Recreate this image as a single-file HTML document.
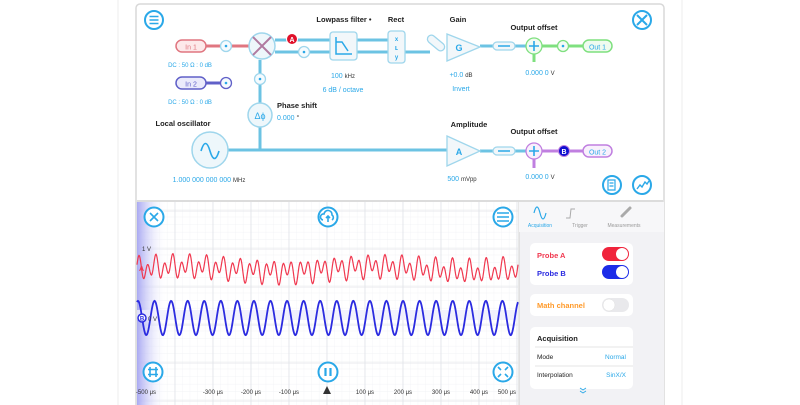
<!DOCTYPE html>
<html><head><meta charset="utf-8"><style>
html,body{margin:0;padding:0;background:#fff;width:800px;height:405px;overflow:hidden;font-family:"Liberation Sans",sans-serif}
svg text{font-family:"Liberation Sans",sans-serif}
</style></head><body>
<svg width="800" height="405" viewBox="0 0 800 405" xmlns="http://www.w3.org/2000/svg">
<defs>
<linearGradient id="strip" x1="0" x2="1"><stop offset="0" stop-color="#a9a9f2"/><stop offset="1" stop-color="#fff" stop-opacity="0"/></linearGradient>
<pattern id="minor" width="7.6" height="7.6" patternUnits="userSpaceOnUse" x="137" y="202"><path d="M7.6 0V7.6H0" fill="none" stroke="#eef0f3" stroke-width="0.6"/></pattern>
</defs>
<line x1="118" y1="0" x2="118" y2="405" stroke="#eee"/>
<line x1="682" y1="0" x2="682" y2="405" stroke="#eee"/>
<rect x="136" y="4" width="528" height="410" rx="4" fill="#fff" stroke="#d8d8d8" stroke-width="1.5"/>

<g font-size="7.5" font-weight="bold">
<g stroke-width="3" fill="none">
<path d="M205 46H262" stroke="#e07680"/>
<path d="M205 83H226" stroke="#6060c8"/>
<path d="M275 40H330M275 52H330M357 40H388M357 52H388M405 52H430M260 60V103M260 127V150M228 150H447" stroke="#6cc3e3"/>
<path d="M480 46H493M515 46H583M480 151H493M515 151H583" stroke="#6cc3e3"/>
<path d="M534 46H583M534 46V62" stroke="#7fe07f"/>
<path d="M534 151H583M534 151V168" stroke="#c07fe0"/>
</g>
<circle cx="154" cy="20" r="9" fill="#fff" stroke="#2aa8e8" stroke-width="2"/>
<path d="M149.5 16.5h9M149.5 20h9M149.5 23.5h9" stroke="#2aa8e8" stroke-width="1.6"/>
<circle cx="642" cy="20" r="9" fill="#fff" stroke="#2aa8e8" stroke-width="2"/>
<path d="M637 15l10 10M647 15l-10 10" stroke="#2aa8e8" stroke-width="2"/>
<rect x="176" y="40" width="30" height="12" rx="6" fill="#fde9ea" stroke="#e07680" stroke-width="1.5"/>
<text x="191" y="49.5" text-anchor="middle" fill="#e07680" font-weight="normal" font-size="7">In 1</text>
<circle cx="226" cy="46" r="5.5" fill="#f5fbfe" stroke="#9fd6ec" stroke-width="1.3"/><circle cx="226" cy="46" r="1.3" fill="#2aa8e8"/>
<rect x="176" y="77" width="30" height="12" rx="6" fill="#ebebfb" stroke="#6060c8" stroke-width="1.5"/>
<text x="191" y="86.5" text-anchor="middle" fill="#6060c8" font-weight="normal" font-size="7">In 2</text>
<circle cx="226" cy="83" r="5.5" fill="#f5fbfe" stroke="#6060c8" stroke-width="1.3"/><circle cx="226" cy="83" r="1.3" fill="#2aa8e8"/>
<text x="190" y="67" text-anchor="middle" fill="#2aa8e8" font-weight="normal" font-size="6">DC : 50 Ω : 0 dB</text>
<text x="190" y="104" text-anchor="middle" fill="#2aa8e8" font-weight="normal" font-size="6">DC : 50 Ω : 0 dB</text>
<circle cx="262" cy="46" r="13" fill="#eef7fb" stroke="#9fd6ec" stroke-width="1.5"/>
<path d="M253 37l18 18M271 37l-18 18" stroke="#b07aa0" stroke-width="2"/>
<circle cx="292" cy="39" r="5.5" fill="#e0102a" stroke="#fff"/><text x="292" y="42" text-anchor="middle" fill="#fff" font-size="7">A</text>
<circle cx="304" cy="52" r="5.5" fill="#f5fbfe" stroke="#9fd6ec" stroke-width="1.3"/><circle cx="304" cy="52" r="1.3" fill="#2aa8e8"/>
<circle cx="260" cy="79" r="5.5" fill="#f5fbfe" stroke="#9fd6ec" stroke-width="1.3"/><circle cx="260" cy="79" r="1.3" fill="#2aa8e8"/>
<rect x="330" y="32" width="27" height="28" rx="3" fill="#f2f7fa" stroke="#9fd6ec" stroke-width="1.3"/>
<path d="M336 37V54H352M336 42h6l6 9" stroke="#2aa8e8" stroke-width="1.5" fill="none"/>
<text x="344" y="22" text-anchor="middle" fill="#222">Lowpass filter •</text>
<text x="343" y="78" text-anchor="middle" fill="#2aa8e8" font-weight="normal" font-size="7">100 <tspan fill="#333" font-size="6">kHz</tspan></text>
<text x="343" y="92" text-anchor="middle" fill="#2aa8e8" font-weight="normal" font-size="7">6 dB / octave</text>
<rect x="388" y="31" width="17" height="32" rx="3" fill="#f2f7fa" stroke="#9fd6ec" stroke-width="1.3"/>
<text x="396.5" y="41" text-anchor="middle" fill="#2aa8e8" font-size="6">x</text><text x="396.5" y="50" text-anchor="middle" fill="#2aa8e8" font-size="7">ʟ</text><text x="396.5" y="59" text-anchor="middle" fill="#2aa8e8" font-size="6">y</text>
<text x="396" y="22" text-anchor="middle" fill="#222">Rect</text>
<rect x="426" y="39" width="20" height="8" rx="4" transform="rotate(40 436 43)" fill="#f2f7fa" stroke="#9fd6ec" stroke-width="1.3"/>
<path d="M447 34L480 47L447 61Z" fill="#f2f7fa" stroke="#9fd6ec" stroke-width="1.3"/>
<text x="459" y="51" text-anchor="middle" fill="#2aa8e8" font-size="9">G</text>
<text x="458" y="22" text-anchor="middle" fill="#222">Gain</text>
<text x="461" y="77" text-anchor="middle" fill="#2aa8e8" font-weight="normal" font-size="7">+0.0 <tspan fill="#333" font-size="6">dB</tspan></text>
<text x="461" y="91" text-anchor="middle" fill="#2aa8e8" font-weight="normal" font-size="7">Invert</text>
<text x="534" y="30" text-anchor="middle" fill="#222">Output offset</text>
<rect x="493" y="42" width="22" height="8" rx="4" fill="#f2f7fa" stroke="#9fd6ec" stroke-width="1.3"/><path d="M498 46h12" stroke="#2aa8e8" stroke-width="1.5"/>
<circle cx="534" cy="46" r="8" fill="#f2fbf2" stroke="#7fe07f" stroke-width="1.3"/><path d="M529 46h10M534 41v10" stroke="#2aa8e8" stroke-width="1.6"/>
<circle cx="563" cy="46" r="5.5" fill="#f5fbf5" stroke="#7fe07f" stroke-width="1.3"/><circle cx="563" cy="46" r="1.3" fill="#2aa8e8"/>
<rect x="583" y="40" width="29" height="12" rx="6" fill="#effbef" stroke="#7fe07f" stroke-width="1.5"/><text x="597.5" y="49.5" text-anchor="middle" fill="#2aa8e8" font-weight="normal" font-size="7">Out 1</text>
<text x="540" y="75" text-anchor="middle" fill="#2aa8e8" font-weight="normal" font-size="7">0.000 0 <tspan fill="#333" font-size="6">V</tspan></text>
<circle cx="260" cy="115" r="12" fill="#eef7fb" stroke="#9fd6ec" stroke-width="1.5"/>
<text x="260" y="119" text-anchor="middle" fill="#2aa8e8" font-size="9" font-weight="normal">Δϕ</text>
<text x="277" y="108" fill="#222">Phase shift</text>
<text x="277" y="120" fill="#2aa8e8" font-weight="normal" font-size="7">0.000 <tspan fill="#333">°</tspan></text>
<text x="183" y="126" text-anchor="middle" fill="#222">Local oscillator</text>
<circle cx="210" cy="150" r="18" fill="#eef7fb" stroke="#9fd6ec" stroke-width="1.5"/>
<path d="M201 151c3-10 6-10 9 0s6 10 9 0" fill="none" stroke="#2aa8e8" stroke-width="1.6"/>
<text x="209" y="182" text-anchor="middle" fill="#2aa8e8" font-weight="normal" font-size="7">1.000 000 000 000 <tspan fill="#333" font-size="6">MHz</tspan></text>
<text x="469" y="127" text-anchor="middle" fill="#222">Amplitude</text>
<path d="M447 136L480 151L447 166Z" fill="#f2f7fa" stroke="#9fd6ec" stroke-width="1.3"/>
<text x="459" y="155" text-anchor="middle" fill="#2aa8e8" font-size="9">A</text>
<text x="462" y="181" text-anchor="middle" fill="#2aa8e8" font-weight="normal" font-size="7">500 <tspan fill="#333" font-size="6">mVpp</tspan></text>
<text x="534" y="134" text-anchor="middle" fill="#222">Output offset</text>
<rect x="493" y="147" width="22" height="8" rx="4" fill="#f2f7fa" stroke="#9fd6ec" stroke-width="1.3"/><path d="M498 151h12" stroke="#2aa8e8" stroke-width="1.5"/>
<circle cx="534" cy="151" r="8" fill="#f8f0fc" stroke="#c07fe0" stroke-width="1.3"/><path d="M529 151h10M534 146v10" stroke="#2aa8e8" stroke-width="1.6"/>
<circle cx="564" cy="151" r="5.5" fill="#1010d0" stroke="#c07fe0"/><text x="564" y="154" text-anchor="middle" fill="#fff" font-size="7">B</text>
<rect x="583" y="145" width="29" height="12" rx="6" fill="#f8f0fc" stroke="#c07fe0" stroke-width="1.5"/><text x="597.5" y="154.5" text-anchor="middle" fill="#2aa8e8" font-weight="normal" font-size="7">Out 2</text>
<text x="540" y="179" text-anchor="middle" fill="#2aa8e8" font-weight="normal" font-size="7">0.000 0 <tspan fill="#333" font-size="6">V</tspan></text>
<circle cx="612" cy="185" r="9" fill="#fff" stroke="#2aa8e8" stroke-width="2"/>
<path d="M608 180h7v10h-7zM609.5 183h4M609.5 186h4" stroke="#2aa8e8" fill="none" stroke-width="1.2"/>
<circle cx="642" cy="185" r="9" fill="#fff" stroke="#2aa8e8" stroke-width="2"/>
<path d="M637 189l3-4 2 2 3-5 2 2 2-3" stroke="#2aa8e8" fill="none" stroke-width="1.4"/>
</g>

<line x1="137" y1="201" x2="663" y2="201" stroke="#d0d0d0" stroke-width="1.5"/>
<g>
<rect x="137" y="202" width="381" height="203" fill="url(#minor)"/>
<g id="grid" stroke="#e0e3e8" stroke-width="0.8"></g>
<rect x="137" y="202" width="30" height="203" fill="url(#strip)"/>
<rect x="137" y="310" width="381" height="10" fill="#eeeefc" opacity="0.8"/>
<path id="traceA" fill="none" stroke="#f0384f" stroke-width="1.2"/>
<path id="traceB" fill="none" stroke="#2b2be0" stroke-width="1.8"/>
<text x="142" y="251" font-size="6" fill="#333">1 V</text>
<text x="139" y="271" font-size="7" fill="#f0384f" font-weight="bold">A</text>
<circle cx="142" cy="318" r="4" fill="#fff" stroke="#2b2be0" stroke-width="1.5"/><text x="142" y="320.5" text-anchor="middle" font-size="6" fill="#2b2be0" font-weight="bold">B</text>
<text x="148" y="321" font-size="6" fill="#333">0 V</text>
<g id="ticks" font-size="6" fill="#333"></g>
<path d="M327 386l-4 8h8z" fill="#333"/>
<g fill="#fff" stroke="#2aa8e8" stroke-width="2">
<circle cx="154" cy="217" r="9.5"/>
<circle cx="328" cy="217" r="9.5"/>
<circle cx="503" cy="217" r="9.5"/>
<circle cx="153" cy="372" r="9.5"/>
<circle cx="328" cy="372" r="9.5"/>
<circle cx="503" cy="372" r="9.5"/>
</g>
<g stroke="#2aa8e8" stroke-width="1.6" fill="none">
<path d="M150 213l8 8M158 213l-8 8"/>
<path d="M323 220a3 3 0 0 1 1-6a4 4 0 0 1 8 1a3 3 0 0 1 0 5M328 222v-6M326 218l2-2 2 2"/>
<path d="M497 213h12M497 217h12M497 221h12"/>
<path d="M150 367v10M156 367v10M148 369.5h10M148 374.5h10"/>
<path d="M325.5 368v8M330.5 368v8" stroke-width="2.2"/>
<path d="M498 367l3 3M508 367l-3 3M498 377l3-3M508 377l-3-3"/>
</g>
</g>

<g>
<rect x="519" y="202" width="145" height="203" fill="#f2f2f5"/>
<line x1="519" y1="202" x2="519" y2="405" stroke="#d0d0d0"/>
<rect x="519" y="202" width="145" height="30" fill="#f7f7f9"/>
<path d="M534 213c2-8 4-8 6 0s4 8 6 0" stroke="#2aa8e8" fill="none" stroke-width="1.2"/>
<path d="M566 218h4l1-9h4" stroke="#aaa" fill="none" stroke-width="1"/>
<path d="M622 216l8-8" stroke="#aaa" stroke-width="3" stroke-linecap="round"/>
<text x="540" y="227" text-anchor="middle" font-size="5" fill="#2aa8e8">Acquisition</text>
<text x="580" y="227" text-anchor="middle" font-size="5" fill="#999">Trigger</text>
<text x="624" y="227" text-anchor="middle" font-size="5" fill="#999">Measurements</text>
<rect x="530" y="243" width="103" height="42" rx="5" fill="#fff"/>
<text x="537" y="258" font-size="7.5" font-weight="bold" fill="#f0384f">Probe A</text>
<text x="537" y="276" font-size="7.5" font-weight="bold" fill="#2b2be0">Probe B</text>
<rect x="602" y="247" width="27" height="14" rx="7" fill="#f0243c"/><circle cx="622" cy="254" r="6" fill="#fff"/>
<rect x="602" y="265" width="27" height="14" rx="7" fill="#1c2ce8"/><circle cx="622" cy="272" r="6" fill="#fff"/>
<rect x="530" y="294" width="103" height="22" rx="5" fill="#fff"/>
<text x="537" y="308" font-size="7.5" font-weight="bold" fill="#ff9a2a">Math channel</text>
<rect x="602" y="298" width="27" height="14" rx="7" fill="#e9e9ec"/><circle cx="609" cy="305" r="6" fill="#fff" stroke="#ddd" stroke-width="0.5"/>
<rect x="530" y="327" width="103" height="62" rx="5" fill="#fff"/>
<text x="537" y="341" font-size="7.5" font-weight="bold" fill="#222">Acquisition</text>
<line x1="535" y1="347" x2="633" y2="347" stroke="#e6e6e6"/>
<text x="537" y="359" font-size="6.5" fill="#222">Mode</text>
<text x="626" y="359" font-size="6.5" fill="#2aa8e8" text-anchor="end">Normal</text>
<line x1="535" y1="366" x2="633" y2="366" stroke="#e6e6e6"/>
<text x="537" y="377" font-size="6.5" fill="#222">Interpolation</text>
<text x="626" y="377" font-size="6.5" fill="#2aa8e8" text-anchor="end">SinX/X</text>
<path d="M580 388l3 2 3-2M580 391l3 2 3-2" stroke="#2aa8e8" fill="none" stroke-width="0.9"/>
</g>

<script>
const tickValues=[-500,-300,-200,-100,100,200,300,400,500];
const tickLabels=["-500 μs","-300 μs","-200 μs","-100 μs","100 μs","200 μs","300 μs","400 μs","500 μs"];
const probeBFreqCycles=[23];
const probeBAmp=[0.95];
const probeAComponents=[45,23];
const probeAAmps=[0.5,0.3];
const probeAOffset=[0.15];
const NS='http://www.w3.org/2000/svg';
const x0=137,x1=518;
const xs=t=>327+t*0.38;           // μs -> px
const yA=v=>269-v*17;             // volts -> px (probe A)
const yB=v=>318-v*18;             // volts -> px (probe B)
const grid=document.getElementById('grid');
for(let t=-500;t<=500;t+=100){const l=document.createElementNS(NS,'line');


l.setAttribute('x1',xs(t));l.setAttribute('x2',xs(t));l.setAttribute('y1',202);l.setAttribute('y2',405);grid.appendChild(l);}
for(let y=211;y<405;y+=38){const l=document.createElementNS(NS,'line');


l.setAttribute('x1',x0);l.setAttribute('x2',x1);l.setAttribute('y1',y);l.setAttribute('y2',y);grid.appendChild(l);}
const tk=document.getElementById('ticks');
tickValues.forEach((v,i)=>{const t=document.createElementNS(NS,'text');


let x=xs(v);x=Math.max(146,Math.min(507,x));
t.setAttribute('x',x);t.setAttribute('y',394);t.setAttribute('text-anchor','middle');t.textContent=tickLabels[i];tk.appendChild(t);});
let dA='',dB='';
for(let px=x0;px<=x1;px+=0.5){const u=(px-x0)/(x1-x0);
const b=probeBAmp[0]*Math.sin(2*Math.PI*probeBFreqCycles[0]*u+1.2);
let a=0;probeAComponents.forEach((f,i)=>{a+=probeAAmps[i]*Math.sin(2*Math.PI*f*u+i);});
a+=probeAOffset[0]*Math.sin(2*Math.PI*2*u);
dA+=(dA?'L':'M')+px.toFixed(1)+' '+yA(a).toFixed(1);
dB+=(dB?'L':'M')+px.toFixed(1)+' '+yB(b).toFixed(1);}
document.getElementById('traceA').setAttribute('d',dA);
document.getElementById('traceB').setAttribute('d',dB);
</script>
</svg>
</body></html>
